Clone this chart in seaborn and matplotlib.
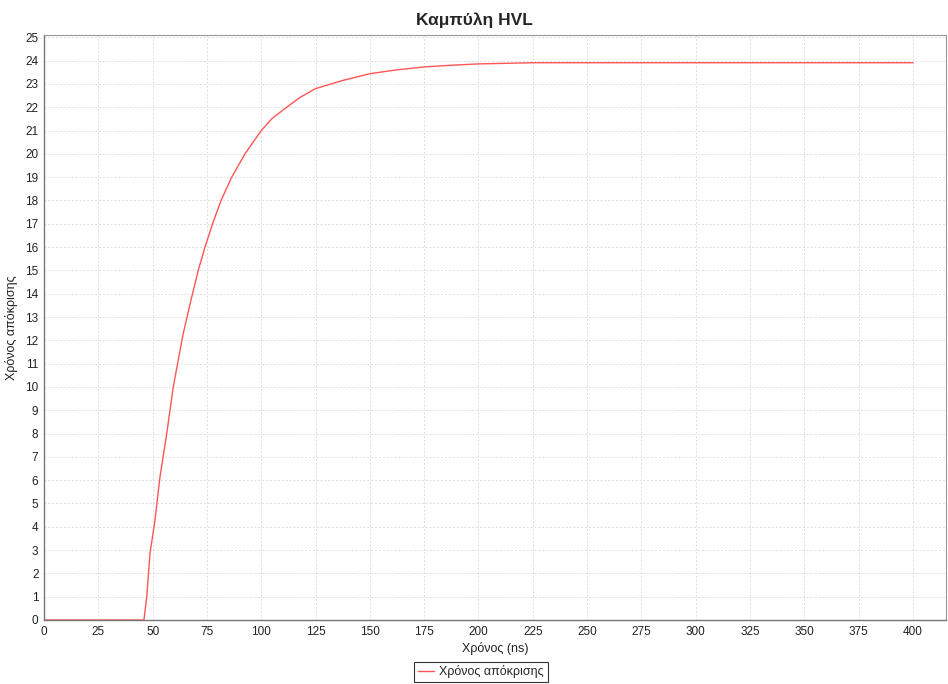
import matplotlib
matplotlib.use("Agg")
import matplotlib.pyplot as plt
import seaborn as sns
import pandas as pd
from matplotlib.ticker import MultipleLocator

time_ns = [0, 46, 47.3, 48.8, 51.1, 53.4, 56.5, 59.5, 64.1, 68, 71.0, 74.1,
           77.6, 81.5, 86.4, 92.5, 100, 105, 111.7, 118, 125, 137.5,
           150, 162, 175, 187, 200, 225, 400]
response = [0, 0, 1.0, 2.86, 4.29, 6.15, 8.0, 10.0, 12.3, 13.86, 15.0, 16.0,
            17.0, 18.0, 19.0, 20.0, 21.0, 21.52, 22.0, 22.43, 22.8, 23.15,
            23.44, 23.6, 23.73, 23.8, 23.86, 23.91, 23.91]
series_name = "Χρόνος απόκρισης"

df = pd.DataFrame({"x": time_ns, "y": response, "s": series_name})

sns.set_style("white")
plt.rcParams['font.family'] = ['Liberation Sans', 'DejaVu Sans']

fig = plt.figure(figsize=(9.48, 6.84), dpi=100)
ax = fig.add_axes([44/948, 1-620/684, (946-44)/948, (620-35)/684])

sns.lineplot(data=df, x="x", y="y", hue="s", palette=["#ff5555"],
             linewidth=1.0, ax=ax, legend=True)

ax.set_xlim(0, 415.2)
ax.set_ylim(0, 25.1)
ax.xaxis.set_major_locator(MultipleLocator(25))
ax.yaxis.set_major_locator(MultipleLocator(1))
ax.grid(True, color="#dddddd", linestyle=(0, (2, 2)), linewidth=0.7)
ax.set_axisbelow(True)

for side in ["top", "right"]:
    ax.spines[side].set_color("#999999")
    ax.spines[side].set_linewidth(0.8)
for side in ["left", "bottom"]:
    ax.spines[side].set_color("#777777")
    ax.spines[side].set_linewidth(1.0)

ax.tick_params(axis="both", labelsize=8.5, length=2, width=0.6,
               color="#777777", labelcolor="#222222", pad=2)

ax.set_xlabel("Χρόνος (ns)", fontsize=9, color="#222222", labelpad=3)
ax.set_ylabel("Χρόνος απόκρισης", fontsize=9, color="#222222", labelpad=5)
fig.suptitle("Καμπύλη HVL", fontsize=12.5, fontweight="bold", x=0.5, y=0.982)

leg = ax.legend(loc="center", bbox_to_anchor=(481/948, 12/684),
                bbox_transform=fig.transFigure, fontsize=9, frameon=True,
                fancybox=False, handlelength=1.3, handletextpad=0.4,
                borderpad=0.3, edgecolor="black")
leg.get_frame().set_linewidth(0.8)

fig.savefig("out.png", dpi=100)
